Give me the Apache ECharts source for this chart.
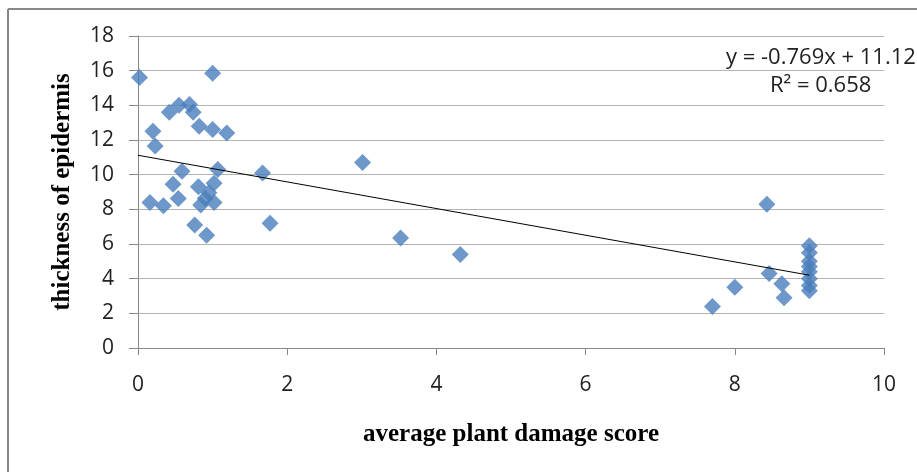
<!DOCTYPE html>
<html>
<head>
<meta charset="utf-8">
<script src="https://cdn.jsdelivr.net/npm/echarts@6/dist/echarts.min.js"></script>
<style>
html,body{margin:0;padding:0;background:#fff;}
#chart{width:917px;height:472px;}
</style>
</head>
<body>
<div id="chart"></div>
<script>
// damage score (x) and thickness of epidermis (y)
const damageScore = [
  0.02, 1.00, 0.20, 0.23, 0.42, 0.55, 0.69, 0.74, 0.82, 1.00, 1.19,
  0.59, 1.07, 1.67, 0.47, 0.81, 1.02, 0.95, 0.54, 0.16, 0.34, 0.84,
  1.02, 0.90, 0.76, 0.92, 1.77, 3.01, 3.52, 4.32,
  7.70, 8.00, 8.43, 8.46, 8.63, 8.66,
  9.00, 9.00, 9.00, 9.00, 9.00, 9.00, 9.00, 9.00
];
const epidermis = [
  15.6, 15.85, 12.5, 11.65, 13.6, 14.0, 14.05, 13.6, 12.8, 12.6, 12.4,
  10.2, 10.3, 10.1, 9.45, 9.3, 9.5, 8.95, 8.63, 8.4, 8.2, 8.25,
  8.4, 8.63, 7.1, 6.5, 7.2, 10.7, 6.35, 5.4,
  2.4, 3.5, 8.3, 4.3, 3.7, 2.9,
  5.9, 5.5, 5.0, 4.7, 4.4, 4.0, 3.6, 3.3
];
const trendSlope = -0.769;
const trendIntercept = 11.12;
const trendRange = [0, 9];
const xTicks = [0, 2, 4, 6, 8, 10];
const yTicks = [0, 2, 4, 6, 8, 10, 12, 14, 16, 18];

const points = damageScore.map((x, i) => [x, epidermis[i]]);
const trend = trendRange.map(x => [x, trendSlope * x + trendIntercept]);

const chart = echarts.init(document.getElementById('chart'), null, {renderer: 'canvas'});
const tickFont = {fontFamily: 'Open Sans', fontSize: 21, color: '#222'};
const titleFont = {fontFamily: 'Liberation Serif', fontWeight: 'bold', fontSize: 25, color: '#000'};
chart.setOption({
  animation: false,
  backgroundColor: '#fff',
  grid: {left: 138, right: 33, top: 36, bottom: 124, containLabel: false},
  xAxis: {
    type: 'value', min: xTicks[0], max: xTicks[xTicks.length - 1], interval: 2,
    name: 'average plant damage score', nameLocation: 'middle', nameGap: 74,
    nameTextStyle: titleFont,
    axisLine: {show: true, lineStyle: {color: '#888', width: 1}},
    axisTick: {show: true, length: 7, inside: false, lineStyle: {color: '#888'}},
    axisLabel: Object.assign({margin: 27}, tickFont),
    splitLine: {show: false}
  },
  yAxis: {
    type: 'value', min: yTicks[0], max: yTicks[yTicks.length - 1], interval: 2,
    name: 'thickness of epidermis', nameLocation: 'middle', nameGap: 63,
    nameTextStyle: titleFont,
    axisLine: {show: true, lineStyle: {color: '#888', width: 1}},
    axisTick: {show: true, length: 9, inside: false, lineStyle: {color: '#888'}},
    axisLabel: Object.assign({margin: 24}, tickFont),
    splitLine: {show: true, lineStyle: {color: '#b3b3b3', width: 1}}
  },
  series: [
    {
      type: 'scatter', data: points, symbol: 'diamond', symbolSize: 17,
      itemStyle: {color: '#4a7ebb'}, z: 3
    },
    {
      type: 'line', data: trend, symbol: 'none', z: 4,
      lineStyle: {color: '#000', width: 1}
    }
  ],
  graphic: [
    {type: 'line', shape: {x1: 8, y1: 9, x2: 917, y2: 9}, style: {stroke: '#888', lineWidth: 2}},
    {type: 'line', shape: {x1: 8, y1: 9, x2: 8, y2: 472}, style: {stroke: '#888', lineWidth: 2}},
    {type: 'text', left: 726, top: 47, style: {text: 'y = -0.769x + 11.12', font: '22px "Open Sans"', fill: '#222'}},
    {type: 'text', left: 770, top: 75, style: {text: 'R² = 0.658', font: '22px "Open Sans"', fill: '#222'}}
  ]
});
</script>
</body>
</html>
